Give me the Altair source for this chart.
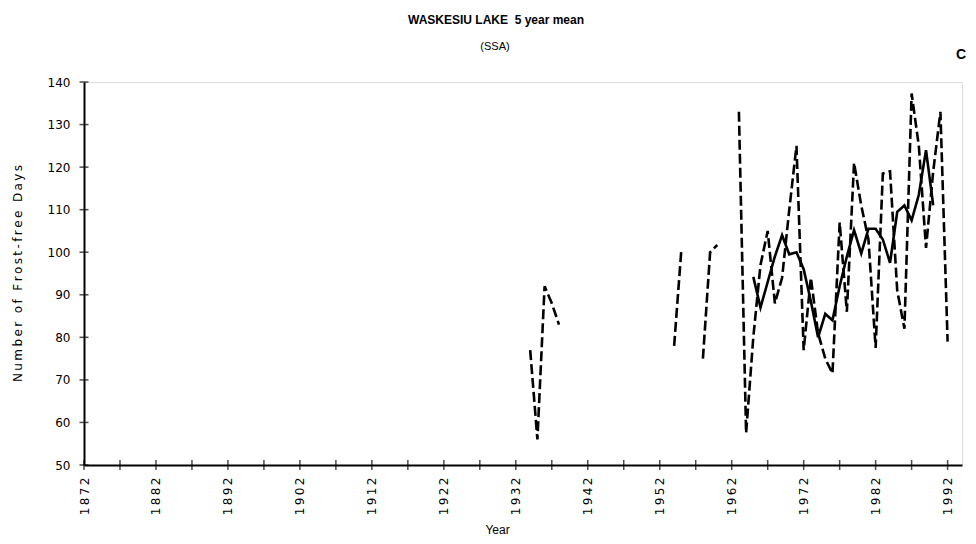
import altair as alt
import pandas as pd

title_text = "WASKESIU LAKE\u00a0 5 year mean"
subtitle_text = "(SSA)"
corner_text = "C"
x_title = "Year"
y_title = "Number of Frost-free Days"

# annual frost-free days (dashed), None = no observation
annual_years = list(range(1934, 1993))
annual_days = (
    [77, 56, 92, 88, 83]                      # 1934-1938
    + [None] * 15                             # 1939-1953
    + [78, 100.5]                             # 1954-1955
    + [None, None]                            # 1956-1957
    + [75, 100, 101.7]                        # 1958-1960
    + [None, None]                            # 1961-1962
    + [133, 57.5, 80, 97, 105, 88, 94, 110, 125, 77]        # 1963-1972
    + [94, 81, 75, 71.5, 107, 86, 121, 111, 103, 77.5]      # 1973-1982
    + [118.5, 119, 91, 82, 137.3, 125, 101, 119, 133, 79]   # 1983-1992
)

# 5 year mean (solid)
mean_years = list(range(1965, 1991))
mean_days = [94.2, 87, 93, 99, 104, 99.5, 100, 96, 88.5, 80,
             85.5, 84, 92, 99, 105.2, 99.7, 105.5, 105.5, 103, 97.5,
             109.5, 111, 107.5, 113.5, 124, 111]

tick_years = list(range(1872, 1993, 5))
label_years = list(range(1872, 1993, 10))
y_ticks = list(range(50, 141, 10))

# split the annual series into continuous runs
rows, seg, prev = [], 0, None
for yr, v in zip(annual_years, annual_days):
    if v is None:
        prev = None
        continue
    if prev is None:
        seg += 1
    rows.append({"year": yr, "days": v, "seg": seg})
    prev = v
annual_df = pd.DataFrame(rows)
mean_df = pd.DataFrame({"year": mean_years, "days": mean_days})
xt_df = pd.DataFrame({"year": tick_years})
yt_df = pd.DataFrame({"days": y_ticks})

W, H = 878, 383
xscale = alt.Scale(domain=[1872, 1994], nice=False, zero=False)
yscale = alt.Scale(domain=[50, 140], nice=False, zero=False)

x_axis = alt.Axis(values=label_years, format="d", labelAngle=270, ticks=False, tickSize=0,
                  domainWidth=2, domainColor="black", grid=False,
                  labelExpr="join(split(datum.label, ''), '\u2009')",
                  labelFont="DejaVu Sans", labelFontSize=12, labelColor="black", labelPadding=12,
                  title=x_title, titleFont="Liberation Sans", titleFontSize=12, titleFontWeight="normal",
                  titleColor="black", titleX=413, titleY=64, titleBaseline="middle", labelFlush=False,
                  labelOverlap=False)
y_axis = alt.Axis(values=y_ticks, ticks=False, tickSize=0, domainWidth=2, domainColor="black", grid=False,
                  labelFont="DejaVu Sans", labelFontSize=12, labelColor="black", labelPadding=14,
                  title="\u2009".join(y_title), titleFont="DejaVu Sans", titleFontSize=12,
                  titleFontWeight="normal",
                  titleColor="black", titleX=-67, titleY=191, titleAngle=270, titleBaseline="middle",
                  titleAlign="center")

annual = alt.Chart(annual_df).mark_line(color="black", strokeWidth=2.6, strokeDash=[10, 4]).encode(
    x=alt.X("year:Q", scale=xscale, axis=x_axis),
    y=alt.Y("days:Q", scale=yscale, axis=y_axis),
    detail="seg:N",
)
mean = alt.Chart(mean_df).mark_line(color="black", strokeWidth=2.6).encode(
    x=alt.X("year:Q", scale=xscale),
    y=alt.Y("days:Q", scale=yscale),
)
xticks = alt.Chart(xt_df).mark_tick(orient="vertical", color="black", size=10, thickness=1.5).encode(
    x=alt.X("year:Q", scale=xscale), y=alt.value(H)
)
yticks = alt.Chart(yt_df).mark_tick(orient="horizontal", color="black", size=9, thickness=1.5).encode(
    y=alt.Y("days:Q", scale=yscale), x=alt.value(0)
)
texts_df = pd.DataFrame({
    "t": [title_text, subtitle_text, corner_text],
    "kind": ["title", "subtitle", "corner"],
})
title_mark = alt.Chart(texts_df).transform_filter(alt.datum.kind == "title").mark_text(
    font="Liberation Sans", fontSize=12, fontWeight="bold", align="center", baseline="middle", color="black"
).encode(text="t:N", x=alt.value(412), y=alt.value(-62))
subtitle_mark = alt.Chart(texts_df).transform_filter(alt.datum.kind == "subtitle").mark_text(
    font="Liberation Sans", fontSize=11, align="center", baseline="middle", color="black"
).encode(text="t:N", x=alt.value(411), y=alt.value(-35))
corner = alt.Chart(texts_df).transform_filter(alt.datum.kind == "corner").mark_text(
    font="Liberation Sans", fontSize=14, fontWeight="bold", align="left", baseline="middle", color="black"
).encode(text="t:N", x=alt.value(W - 6), y=alt.value(-27))

chart = alt.layer(annual, mean, xticks, yticks, title_mark, subtitle_mark, corner).properties(
    width=W, height=H,
    autosize=alt.AutoSizeParams(type="none"),
    padding={"left": 76, "top": 74, "right": 6, "bottom": 70},
).configure_view(stroke=None).configure(background="white")

chart.save("out.html", embed_options={"renderer": "svg", "actions": False})
